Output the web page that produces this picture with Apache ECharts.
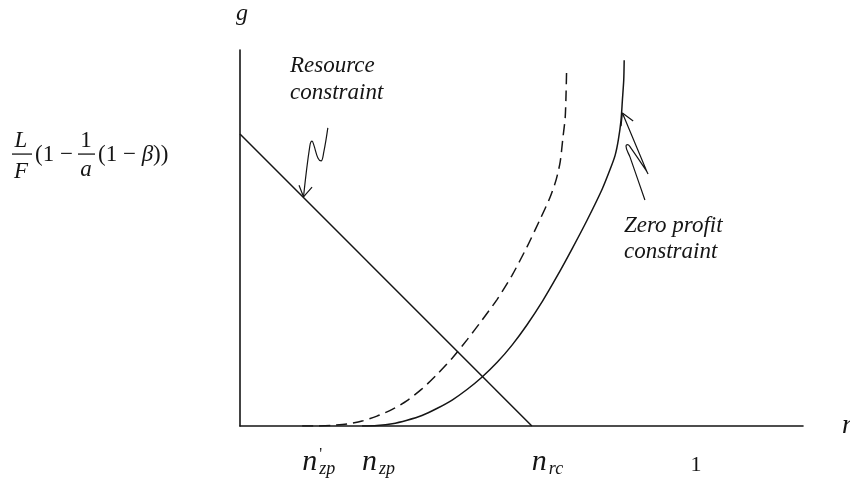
<!DOCTYPE html>
<html>
<head>
<meta charset="utf-8">
<script src="https://cdn.jsdelivr.net/npm/echarts@6/dist/echarts.min.js"></script>
<style>
  html, body { margin: 0; padding: 0; background: #ffffff; }
  #chart { width: 850px; height: 484px; }
</style>
</head>
<body>
<div id="chart"></div>
<script>
// Ticks on the n axis: value and symbol parts
const tickValues = [0.138, 0.271, 0.648, 1];
const tickMain = ['n', 'n', 'n', '1'];
const tickSub = ['zp', 'zp', 'rc', ''];
const tickPrime = [true, false, false, false];

// Resource constraint: straight line from the g-intercept down to n_rc
const resourceN = [0, 0.648];
const resourceG = [1, 0];

// Zero profit constraint (solid)
const zeroProfitN = [0.271, 0.304, 0.338, 0.371, 0.404, 0.437, 0.471, 0.504, 0.537, 0.571, 0.604, 0.637,
  0.671, 0.704, 0.737, 0.770, 0.804, 0.822, 0.833, 0.840, 0.846, 0.849, 0.852, 0.853];
const zeroProfitG = [0, 0.002, 0.008, 0.020, 0.036, 0.060, 0.089, 0.125, 0.167, 0.218, 0.277, 0.346,
  0.426, 0.513, 0.606, 0.703, 0.811, 0.880, 0.928, 0.980, 1.048, 1.116, 1.185, 1.253];

// Shifted zero profit constraint (dashed)
const shiftedN = [0.138, 0.171, 0.204, 0.238, 0.271, 0.304, 0.338, 0.371, 0.404, 0.437, 0.471, 0.504,
  0.537, 0.571, 0.604, 0.637, 0.666, 0.688, 0.702, 0.711, 0.717, 0.722, 0.724, 0.725];
const shiftedG = [0, 0.0002, 0.002, 0.007, 0.017, 0.034, 0.057, 0.087, 0.127, 0.176, 0.232, 0.295,
  0.362, 0.434, 0.516, 0.613, 0.707, 0.782, 0.844, 0.906, 0.988, 1.056, 1.142, 1.209];

// Squiggly pointer onto the resource constraint, and its arrow head
const resArrowN = [0.195, 0.186, 0.180, 0.173, 0.164, 0.160, 0.155, 0.141];
const resArrowG = [1.021, 0.938, 0.908, 0.918, 0.962, 0.976, 0.959, 0.785];
const resHeadN = [0.131, 0.141, 0.160];
const resHeadG = [0.825, 0.785, 0.818];

// Squiggly pointer onto the zero profit constraint, and its arrow head
const zpArrowN = [0.899, 0.866, 0.857, 0.861, 0.868, 0.901, 0.906, 0.903, 0.849];
const zpArrowG = [0.774, 0.921, 0.959, 0.964, 0.952, 0.877, 0.863, 0.873, 1.072];
const zpHeadN = [0.846, 0.849, 0.873];
const zpHeadG = [1.027, 1.072, 1.045];

const SERIF = '"Liberation Serif", "Times New Roman", serif';
const INK = '#151515';

function pairs(xs, ys) { return xs.map((x, i) => [x, ys[i]]); }

function curve(data, opts) {
  return Object.assign({
    type: 'line',
    data: data,
    symbol: 'none',
    silent: true,
    animation: false,
    lineStyle: { color: INK, width: 1.5 }
  }, opts || {});
}

const chart = echarts.init(document.getElementById('chart'), null, { renderer: 'canvas' });

chart.setOption({
  backgroundColor: '#ffffff',
  animation: false,
  grid: { left: 240, right: 47, top: 50, bottom: 58, containLabel: false, outerBoundsMode: 'none' },
  xAxis: {
    type: 'value',
    min: 0,
    max: 1.25,
    axisLine: { show: true, onZero: false, lineStyle: { color: INK, width: 1.6 } },
    axisTick: { show: false },
    splitLine: { show: false },
    name: 'n',
    nameLocation: 'end',
    nameGap: 39,
    nameTextStyle: { fontFamily: SERIF, fontStyle: 'italic', fontSize: 28, color: INK, align: 'left', verticalAlign: 'middle' },
    axisLabel: {
      customValues: tickValues,
      margin: 21,
      align: 'left',
      verticalAlign: 'top',
      color: INK,
      formatter: function (value) {
        const i = tickValues.indexOf(value);
        if (i < 0) return '';
        if (!tickSub[i]) return '{one|' + tickMain[i] + '}';
        return '{n|' + tickMain[i] + '}' + (tickPrime[i] ? "{pr|'}" : '') + '{sub|' + tickSub[i] + '}';
      },
      rich: {
        n: { fontFamily: SERIF, fontStyle: 'italic', fontSize: 30, lineHeight: 30, width: 17, verticalAlign: 'top', color: INK },
        pr: { fontFamily: SERIF, fontSize: 16, lineHeight: 16, width: 0, verticalAlign: 'top', color: INK },
        sub: { fontFamily: SERIF, fontStyle: 'italic', fontSize: 18, lineHeight: 18, padding: [13, 0, 0, 0], verticalAlign: 'top', color: INK },
        one: { fontFamily: SERIF, fontSize: 22, lineHeight: 22, padding: [7, 0, 0, 0], verticalAlign: 'top', color: INK }
      }
    }
  },
  yAxis: {
    type: 'value',
    min: 0,
    max: 1.288,
    axisLine: { show: true, onZero: false, lineStyle: { color: INK, width: 1.6 } },
    axisTick: { show: false },
    axisLabel: { show: false },
    splitLine: { show: false },
    name: 'g',
    nameLocation: 'end',
    nameGap: 36,
    nameTextStyle: { fontFamily: SERIF, fontStyle: 'italic', fontSize: 24, color: INK, align: 'center', verticalAlign: 'middle', padding: [0, 0, 0, 4] }
  },
  series: [
    curve(pairs(resourceN, resourceG), { name: 'Resource constraint' }),
    curve(pairs(zeroProfitN, zeroProfitG), { name: 'Zero profit constraint', smooth: 0.25 }),
    curve(pairs(shiftedN, shiftedG), { name: 'Shifted zero profit', smooth: 0.25, lineStyle: { color: INK, width: 1.5, type: [11, 6] } }),
    curve(pairs(resArrowN, resArrowG), { smooth: 0.4, lineStyle: { color: INK, width: 1.2 } }),
    curve(pairs(resHeadN, resHeadG), { lineStyle: { color: INK, width: 1.2 } }),
    curve(pairs(zpArrowN, zpArrowG), { smooth: 0.4, lineStyle: { color: INK, width: 1.2 } }),
    curve(pairs(zpHeadN, zpHeadG), { lineStyle: { color: INK, width: 1.2 } })
  ]
});

// Intercept label L/F(1 - 1/a(1 - beta)), set level with the g-intercept
const ip = chart.convertToPixel({ gridIndex: 0 }, [0, resourceG[0]]);
const ay = ip[1];

function txt(text, x, y, italic, extra) {
  return {
    type: 'text',
    silent: true,
    x: x,
    y: y,
    style: Object.assign({
      text: text,
      fontFamily: SERIF,
      fontSize: 23,
      fontStyle: italic ? 'italic' : 'normal',
      fill: INK,
      align: 'center',
      verticalAlign: 'middle',
      textAlign: 'center',
      textVerticalAlign: 'middle'
    }, extra || {})
  };
}

function bar(x0, x1, y) {
  return { type: 'rect', silent: true, shape: { x: x0, y: y - 0.65, width: x1 - x0, height: 1.3 }, style: { fill: INK } };
}

chart.setOption({
  graphic: [
    txt('L', 21, ay + 6.5, true),
    bar(12, 32, ay + 20),
    txt('F', 21, ay + 37.5, true),
    txt('(1 − ', 35, ay + 21, false, { align: 'left', textAlign: 'left' }),
    txt('1', 86, ay + 6.5, false),
    bar(78, 95, ay + 20),
    txt('a', 86, ay + 35.5, true),
    {
      type: 'text', silent: true, x: 98, y: ay + 21,
      style: {
        text: '{r|(1 − }{b|β}{r|))}',
        align: 'left', verticalAlign: 'middle', textAlign: 'left', textVerticalAlign: 'middle',
        fill: INK,
        rich: {
          r: { fontFamily: SERIF, fontSize: 23, fill: INK, color: INK },
          b: { fontFamily: SERIF, fontSize: 23, fontStyle: 'italic', fill: INK, color: INK }
        }
      }
    },
    txt('Resource\nconstraint', 290, 52.5, true, { align: 'left', textAlign: 'left', verticalAlign: 'top', textVerticalAlign: 'top', lineHeight: 27 }),
    txt('Zero profit\nconstraint', 624, 213, true, { align: 'left', textAlign: 'left', verticalAlign: 'top', textVerticalAlign: 'top', lineHeight: 26 })
  ]
});
</script>
</body>
</html>
